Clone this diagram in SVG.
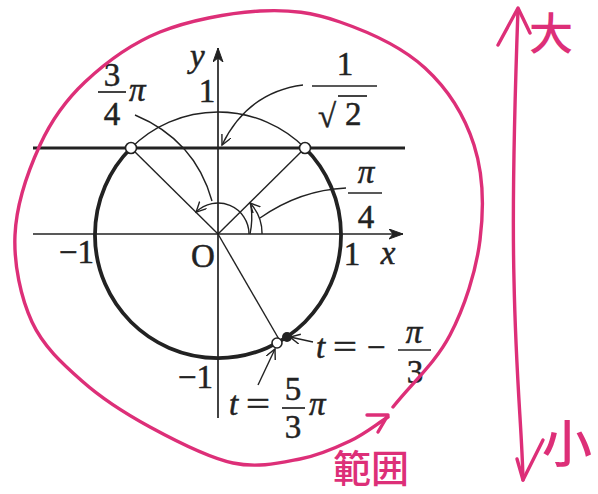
<svg xmlns="http://www.w3.org/2000/svg" width="598" height="494" viewBox="0 0 598 494">
<style>
.ln{stroke:#222;fill:none;stroke-width:1.4}
.ax{stroke:#222;fill:none;stroke-width:1.7}
.thick{stroke:#222;fill:none;stroke-width:3.8}
.hl{stroke:#222;fill:none;stroke-width:3.2}
.pk{stroke:#dd2f78;fill:none;stroke-width:3.4;stroke-linecap:round;stroke-linejoin:round}
.t{font-family:"Liberation Serif","DejaVu Serif",serif;font-size:33px;fill:#222;stroke:#222;stroke-width:0.5}
.i{font-style:italic}
.m{text-anchor:middle}
.e{text-anchor:end}
.bar{stroke:#222;stroke-width:1.7}
.cj{font-family:"Noto Sans CJK JP","Noto Sans CJK SC",sans-serif;font-weight:500;fill:#dd2f78}
.oc{fill:#fff;stroke:#222;stroke-width:1.6}
</style>
<defs>
<marker id="arr" markerUnits="userSpaceOnUse" markerWidth="14" markerHeight="12" refX="10" refY="5" orient="auto">
<path d="M0,0 L10,5 L0,10" fill="none" stroke="#222" stroke-width="1.4"/>
</marker>
<marker id="axarr" markerUnits="userSpaceOnUse" markerWidth="18" markerHeight="12" refX="14" refY="5" orient="auto">
<path d="M0,0 L14,5 L0,10 L4,5 Z" fill="#222" stroke="#222" stroke-width="1"/>
</marker>
</defs>

<g id="axes">
<line class="ax" x1="33" y1="234" x2="403" y2="234" marker-end="url(#axarr)"/>
<line class="ax" x1="218" y1="418" x2="218" y2="48" marker-end="url(#axarr)"/>
</g>

<g id="circle">
<path class="ln" d="M131,148 A123,123 0 0 1 305,148"/>
<path class="thick" d="M305,148 A123,123 0 1 1 131,148"/>
<line class="hl" x1="33" y1="148" x2="405" y2="148"/>
</g>

<g id="connectors">
<line class="ln" x1="218" y1="234" x2="131" y2="148"/>
<line class="ln" x1="218" y1="234" x2="305" y2="148"/>
<line class="ln" x1="218" y1="234" x2="280" y2="341"/>
<path class="ln" d="M249,234 A31,31 0 0 0 196.1,212.1" marker-end="url(#arr)"/>
<path class="ln" d="M262,234 A44,44 0 0 0 250,203" marker-end="url(#arr)"/>
<path class="ln" d="M250,234 Q253,220 251,206"/>
<path class="ln" d="M135,115 Q195,140 212,201"/>
<path class="ln" d="M346,188 Q300,190 260,218"/>
<path class="ln" d="M303,85 Q248,92 222,145" marker-end="url(#arr)"/>
<line class="ln" x1="313" y1="342" x2="290" y2="337" marker-end="url(#arr)"/>
<line class="ln" x1="258" y1="385" x2="275" y2="349" marker-end="url(#arr)"/>
</g>

<g id="points">
<circle class="oc" cx="131" cy="148" r="5.5"/>
<circle class="oc" cx="305" cy="148" r="5.5"/>
<circle cx="287" cy="337" r="5" fill="#222"/>
<circle class="oc" cx="277" cy="343" r="5"/>
</g>

<g id="labels">
<text class="t i" x="190" y="67">y</text>
<text class="t m" x="207" y="102">1</text>
<g id="lbl-3pi4">
<text class="t m" x="112" y="86">3</text>
<line class="bar" x1="98" y1="92" x2="126" y2="92"/>
<text class="t m" x="112" y="125">4</text>
<text class="t i" x="129" y="101">π</text>
</g>
<g id="lbl-inv-sqrt2">
<text class="t m" x="345" y="75">1</text>
<line class="bar" x1="312" y1="86" x2="377" y2="86"/>
<text class="t" x="318" y="127" font-size="44">√</text>
<line class="bar" x1="338" y1="96" x2="367" y2="96"/>
<text class="t" x="345" y="125">2</text>
</g>
<g id="lbl-pi4">
<text class="t i m" x="366" y="183">π</text>
<line class="bar" x1="348" y1="193" x2="382" y2="193"/>
<text class="t m" x="366" y="228">4</text>
</g>
<text class="t e" x="94" y="263">−1</text>
<text class="t" x="191" y="267">O</text>
<text class="t m" x="352" y="265">1</text>
<text class="t i m" x="388" y="264">x</text>
<text class="t e" x="213" y="388">−1</text>
<g id="lbl-t53">
<text class="t i" x="229" y="415">t</text>
<text class="t" x="246" y="415" textLength="24" lengthAdjust="spacingAndGlyphs">=</text>
<text class="t m" x="293" y="400">5</text>
<line class="bar" x1="282" y1="408" x2="305" y2="408"/>
<text class="t m" x="293" y="438">3</text>
<text class="t i" x="309" y="415">π</text>
</g>
<g id="lbl-tm3">
<text class="t i" x="316" y="358">t</text>
<text class="t" x="333" y="358" textLength="24" lengthAdjust="spacingAndGlyphs">=</text>
<text class="t" x="367" y="358">−</text>
<text class="t i m" x="414" y="343">π</text>
<line class="bar" x1="398" y1="350" x2="431" y2="350"/>
<text class="t m" x="415" y="383">3</text>
</g>
</g>

<g id="annotations">
<path class="pk" d="M393,407 C412,383 435.5,362.8 450,335 C464.5,307.2 476,271.7 480,240 C484,208.3 483.2,173.7 474,145 C464.8,116.3 447.3,88.5 425,68 C402.7,47.5 367.5,31.5 340,22 C312.5,12.5 290,9.3 260,11 C230,12.7 189.2,20.2 160,32 C130.8,43.8 105,63.2 85,82 C65,100.8 51.7,119.5 40,145 C28.3,170.5 16.3,205.5 15,235 C13.7,264.5 20.8,297.7 32,322 C43.2,346.3 62.3,363.5 82,381 C101.7,398.5 124.8,413.3 150,427 C175.2,440.7 208,457.7 233,463 C258,468.3 280.5,462.7 300,459 C319.5,455.3 335.3,448 350,441 C364.7,434 375.3,425 388,417"/>
<path class="pk" d="M367,415 L388,415 L378,432"/>
<path class="pk" d="M518,9 C514,120 512,200 514,280 C516,380 522,430 523,480"/>
<path class="pk" d="M498,45 L518,8 L530,33"/>
<path class="pk" d="M517,459 L523,480 L543,440"/>
<text class="cj" x="551" y="50" font-size="44" text-anchor="middle">大</text>
<text class="cj" x="567" y="462" font-size="50" text-anchor="middle">小</text>
<text class="cj" x="371" y="482" font-size="38" text-anchor="middle">範囲</text>
</g>
</svg>
